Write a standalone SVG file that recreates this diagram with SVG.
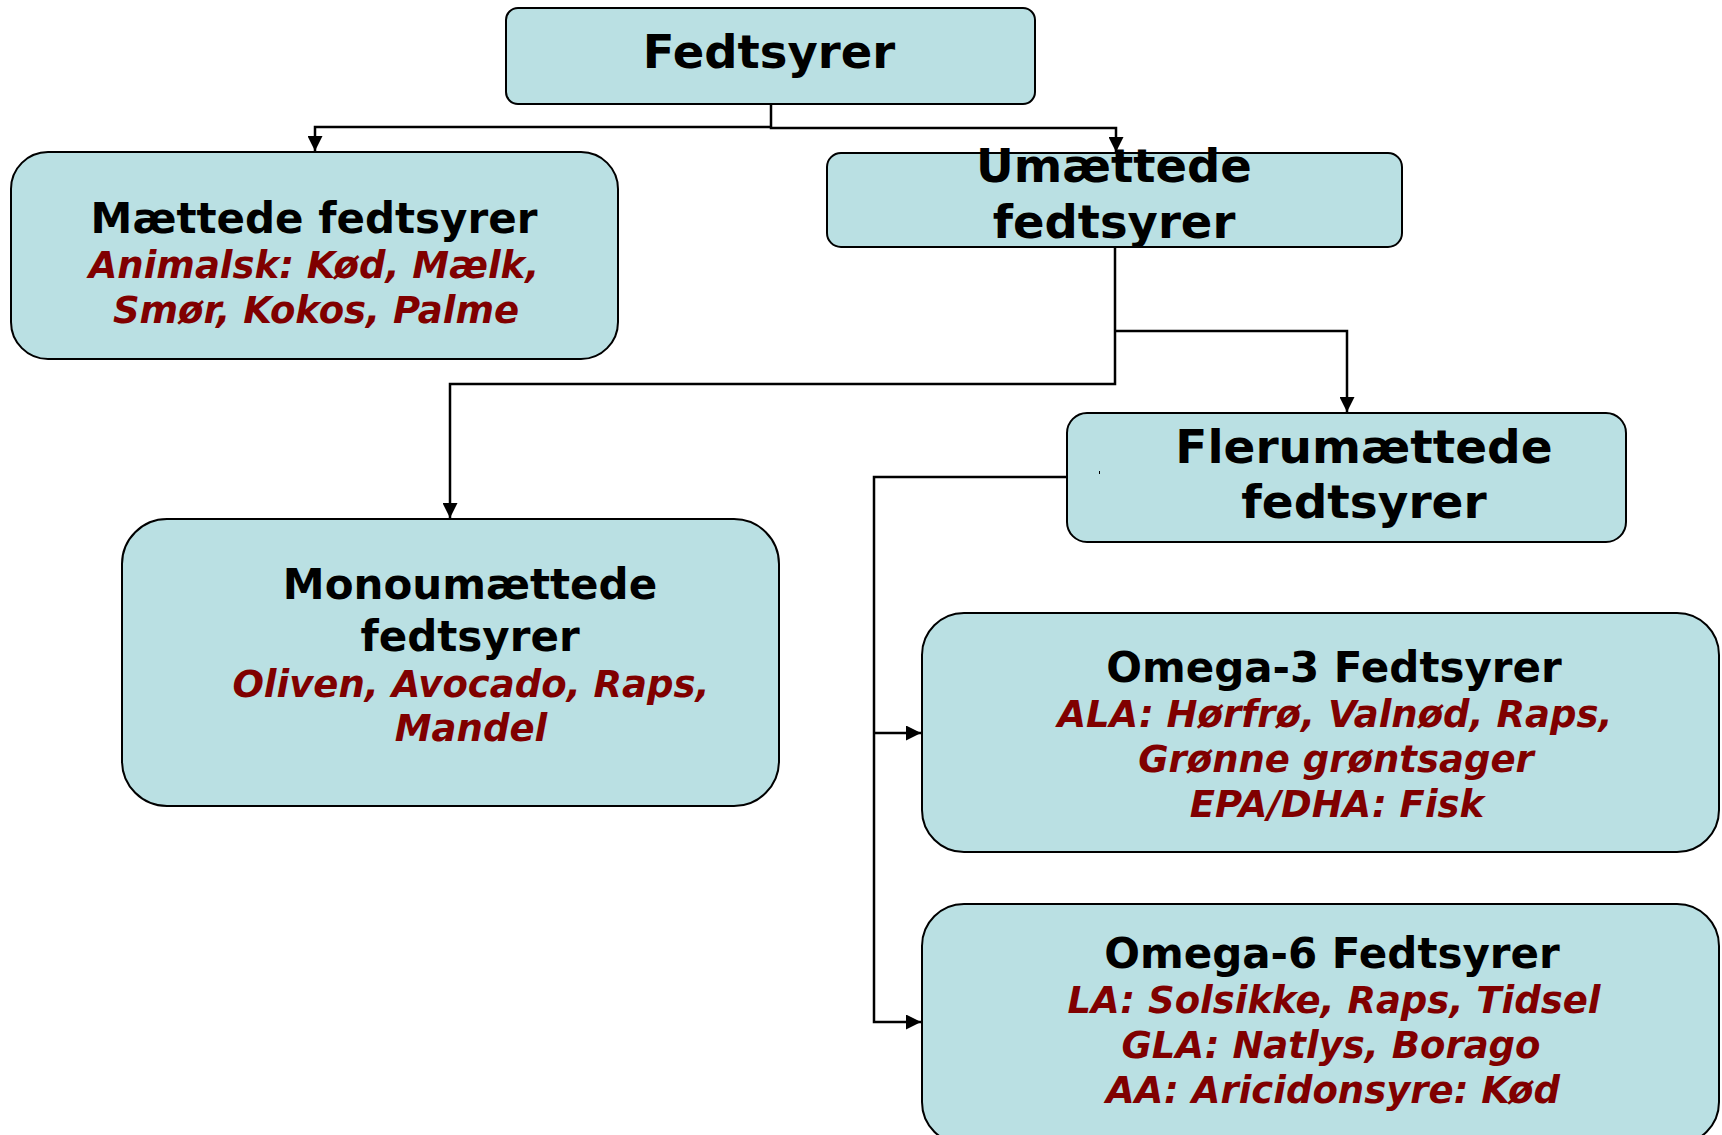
<svg xmlns="http://www.w3.org/2000/svg" width="1722" height="1135" viewBox="0 0 1722 1135">
  <style>
    .box { fill: #bae0e3; stroke: #000; stroke-width: 2; }
    .title { font-family: "DejaVu Sans", Verdana, sans-serif; font-weight: bold; fill: #000; text-anchor: middle; }
    .ex { font-family: "DejaVu Sans", Verdana, sans-serif; font-weight: bold; font-style: italic; fill: #800000; text-anchor: middle; font-size: 37px; }
    .wire { fill: none; stroke: #000; stroke-width: 2.5; }
  </style>
  <defs>
    <marker id="arrow" markerUnits="userSpaceOnUse" markerWidth="15" markerHeight="15" refX="15" refY="7.5" orient="auto">
      <path d="M0,0 L15,7.5 L0,15 Z" fill="#000"/>
    </marker>
  </defs>

  <rect width="1722" height="1135" fill="#fff"/>

  <!-- connectors -->
  <g id="connectors">
    <path class="wire" d="M771,103 V128 H1116 V152" marker-end="url(#arrow)"/>
    <path class="wire" d="M771,127 H315 V151" marker-end="url(#arrow)"/>
    <path class="wire" d="M1115,247 V384 H450 V518" marker-end="url(#arrow)"/>
    <path class="wire" d="M1115,331 H1347 V412" marker-end="url(#arrow)"/>
    <path class="wire" d="M1067,477 H874 V1022 H921" marker-end="url(#arrow)"/>
    <path class="wire" d="M874,733 H921" marker-end="url(#arrow)"/>
  </g>

  <!-- root -->
  <g id="fedtsyrer">
    <rect class="box" x="506" y="8" width="529" height="96" rx="12" stroke-width="1.8"/>
    <text class="title" x="769" y="68" font-size="46.5">Fedtsyrer</text>
  </g>

  <g id="maettede">
    <rect class="box" x="11" y="152" width="607" height="207" rx="37"/>
    <text class="title" x="314" y="233" font-size="42">Mættede fedtsyrer</text>
    <text class="ex" x="314" y="278">Animalsk: Kød, Mælk,</text>
    <text class="ex" x="316" y="323">Smør, Kokos, Palme</text>
  </g>

  <g id="umaettede">
    <rect class="box" x="827" y="153" width="575" height="94" rx="14"/>
    <text class="title" x="1114" y="182" font-size="46.5">Umættede</text>
    <text class="title" x="1114" y="238" font-size="46.5">fedtsyrer</text>
  </g>

  <g id="monoumaettede">
    <rect class="box" x="122" y="519" width="657" height="287" rx="45"/>
    <text class="title" x="470" y="599" font-size="42">Monoumættede</text>
    <text class="title" x="470" y="651" font-size="42">fedtsyrer</text>
    <text class="ex" x="471" y="697">Oliven, Avocado, Raps,</text>
    <text class="ex" x="471" y="741">Mandel</text>
  </g>

  <g id="flerumaettede">
    <rect class="box" x="1067" y="413" width="559" height="129" rx="20"/>
    <text class="title" x="1364" y="463" font-size="47">Flerumættede</text>
    <text class="title" x="1364" y="518" font-size="47">fedtsyrer</text>
    <line x1="1099.5" y1="471" x2="1099.5" y2="474" stroke="#000" stroke-width="1"/>
  </g>

  <g id="omega3">
    <rect class="box" x="922" y="613" width="797" height="239" rx="42"/>
    <text class="title" x="1334" y="682" font-size="42">Omega-3 Fedtsyrer</text>
    <text class="ex" x="1335" y="727">ALA: Hørfrø, Valnød, Raps,</text>
    <text class="ex" x="1336" y="772">Grønne grøntsager</text>
    <text class="ex" x="1337" y="817">EPA/DHA: Fisk</text>
  </g>

  <g id="omega6">
    <rect class="box" x="922" y="904" width="797" height="240" rx="42"/>
    <text class="title" x="1332" y="968" font-size="42">Omega-6 Fedtsyrer</text>
    <text class="ex" x="1334" y="1013">LA: Solsikke, Raps, Tidsel</text>
    <text class="ex" x="1331" y="1058">GLA: Natlys, Borago</text>
    <text class="ex" x="1333" y="1103">AA: Aricidonsyre: Kød</text>
  </g>
</svg>
